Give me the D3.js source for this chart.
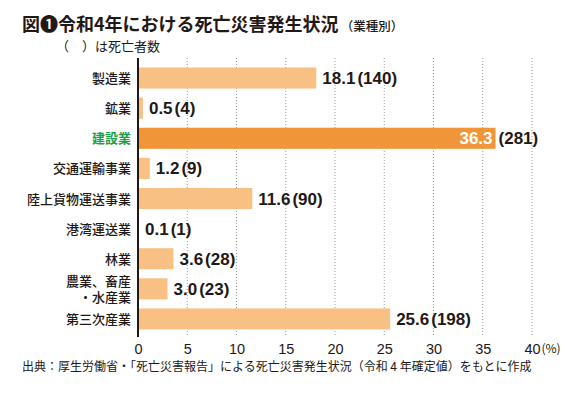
<!DOCTYPE html>
<html>
<head>
<meta charset="utf-8">
<script src="https://cdn.jsdelivr.net/npm/d3@7"></script>
<style>
  body { margin: 0; background: #fff; }
  svg { display: block; }
</style>
</head>
<body>
<div id="chart"></div>
<script>
// data
const categories = ['製造業', '鉱業', '建設業', '交通運輸事業', '陸上貨物運送事業', '港湾運送業', '林業', '農業、畜産\n・水産業', '第三次産業'];
const shares = [18.1, 0.5, 36.3, 1.2, 11.6, 0.1, 3.6, 3.0, 25.6];
const deaths = [140, 4, 281, 9, 90, 1, 28, 23, 198];
const highlighted = '建設業';
const xTicks = [0, 5, 10, 15, 20, 25, 30, 35, 40];

const data = categories.map((name, i) => ({ name, share: shares[i], deaths: deaths[i] }));

const width = 580, height = 397;
const ink = '#231815';
const jp = '"Noto Sans CJK JP", "Noto Sans", sans-serif';
const num = '"Liberation Sans", Arial, sans-serif';

const svg = d3.select('#chart').append('svg')
  .attr('width', width)
  .attr('height', height);

const x = d3.scaleLinear().domain([0, 40]).range([138, 532]);
const y = d3.scaleBand().domain(categories).range([63, 334]).paddingInner(0.3).paddingOuter(0.15);

// title
const title = svg.append('text')
  .attr('x', 22).attr('y', 31)
  .attr('font-family', jp).attr('fill', ink);
title.append('tspan').attr('font-size', 18).attr('font-weight', 700).text('図❶令和4年における死亡災害発生状況');
title.append('tspan').attr('font-size', 12.5).attr('font-weight', 500).attr('dx', 2).text('（業種別）');

svg.append('text')
  .attr('x', 56).attr('y', 51)
  .attr('font-family', jp).attr('font-size', 13).attr('fill', ink)
  .text('（　）は死亡者数');

// dotted grid
svg.append('g')
  .selectAll('line')
  .data(xTicks.filter(d => d > 0))
  .join('line')
  .attr('x1', d => x(d)).attr('x2', d => x(d))
  .attr('y1', 58).attr('y2', 337)
  .attr('stroke', '#9a9a9a')
  .attr('stroke-width', 1)
  .attr('stroke-dasharray', '1,2');

// x axis (labels only, no baseline)
const xAxis = d3.axisBottom(x).tickValues(xTicks).tickSize(0).tickPadding(0);
const gx = svg.append('g')
  .attr('transform', 'translate(0,343)')
  .call(xAxis);
gx.select('.domain').remove();
gx.selectAll('text')
  .attr('font-family', num).attr('font-size', 14.5).attr('fill', ink)
  .attr('dy', '0.75em');
gx.selectAll('.tick').filter(d => d === 40).append('text')
  .attr('x', 9).attr('dy', '0.85em')
  .attr('text-anchor', 'start')
  .attr('font-family', jp).attr('font-size', 12).attr('fill', ink)
  .text('(%)');

// bars
svg.append('g')
  .selectAll('rect')
  .data(data)
  .join('rect')
  .attr('x', x(0) + 1)
  .attr('y', d => y(d.name))
  .attr('width', d => x(d.share) - x(0) - 1)
  .attr('height', y.bandwidth())
  .attr('fill', d => d.name === highlighted ? '#f09638' : '#f8c183');

// axis line
svg.append('line')
  .attr('x1', x(0)).attr('x2', x(0))
  .attr('y1', 58).attr('y2', 337)
  .attr('stroke', ink).attr('stroke-width', 2);

// category labels
const labels = svg.append('g')
  .selectAll('text')
  .data(data)
  .join('text')
  .attr('text-anchor', 'end')
  .attr('font-family', jp)
  .attr('font-size', 13)
  .attr('font-weight', d => d.name === highlighted ? 700 : 500)
  .attr('fill', d => d.name === highlighted ? '#1f9e48' : ink);

labels.each(function(d) {
  const lines = d.name.split('\n');
  const cy = y(d.name) + y.bandwidth() / 2;
  const lh = 15.5;
  lines.forEach((t, i) => {
    d3.select(this).append('tspan')
      .attr('x', 131)
      .attr('y', cy + 5 + (i - (lines.length - 1) / 2) * lh)
      .text(t);
  });
});

// value labels: share, then deaths in parentheses
const vals = svg.append('g')
  .selectAll('text')
  .data(data)
  .join('text')
  .attr('font-family', num)
  .attr('font-size', 17)
  .attr('font-weight', 700)
  .attr('fill', ink)
  .attr('y', d => y(d.name) + y.bandwidth() / 2 + 6);

vals.each(function(d) {
  const sel = d3.select(this);
  if (d.name === highlighted) {
    sel.attr('x', x(d.share) + 3).text(`(${d.deaths})`);
    svg.append('text')
      .attr('x', x(d.share) - 3)
      .attr('y', y(d.name) + y.bandwidth() / 2 + 6)
      .attr('text-anchor', 'end')
      .attr('font-family', num).attr('font-size', 17).attr('font-weight', 700)
      .attr('fill', '#fff')
      .text(d.share.toFixed(1));
  } else {
    sel.attr('x', x(d.share) + 6);
    sel.append('tspan').text(d.share.toFixed(1));
    sel.append('tspan').attr('dx', 2).text(`(${d.deaths})`);
  }
});

// source
svg.append('text')
  .attr('x', 22).attr('y', 371)
  .attr('font-family', jp).attr('font-size', 12).attr('fill', ink)
  .text('出典：厚生労働省・「死亡災害報告」による死亡災害発生状況（令和 4 年確定値）をもとに作成');
</script>
</body>
</html>
